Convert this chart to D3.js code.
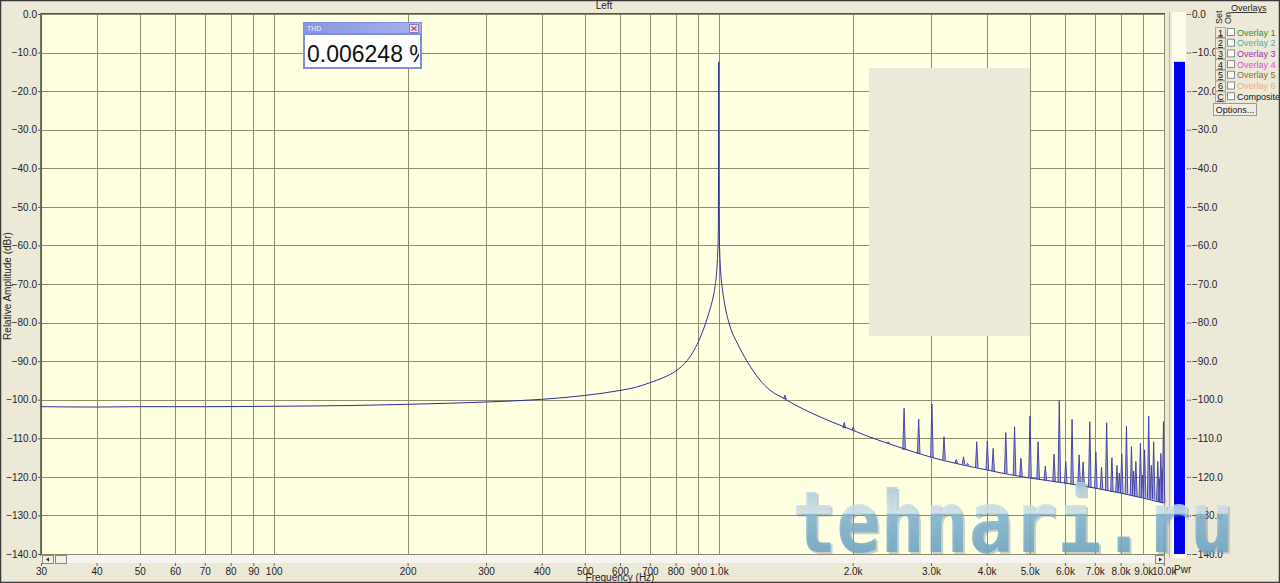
<!DOCTYPE html>
<html><head><meta charset="utf-8">
<script src="https://cdn.jsdelivr.net/npm/d3@7"></script>
<style>
html,body{margin:0;padding:0;background:#ece9d8;}
svg{display:block;font-family:"Liberation Sans",Arial,sans-serif;}
</style></head>
<body>
<script>
// ---------- data ----------
const title = "Left";
const xTitle = "Frequency (Hz)";
const yTitle = "Relative Amplitude (dBr)";
const freqTicks = [30,40,50,60,70,80,90,100,200,300,400,500,600,700,800,900,1000,2000,3000,4000,5000,6000,7000,8000,9000,10000];
const freqLabels = ["30","40","50","60","70","80","90","100","200","300","400","500","600","700","800","900","1.0k","2.0k","3.0k","4.0k","5.0k","6.0k","7.0k","8.0k","9.0k","10.0k"];
const dbTicks = [0,-10,-20,-30,-40,-50,-60,-70,-80,-90,-100,-110,-120,-130,-140];

// continuous spectrum (noise floor + fundamental)
const curveFreq = [30,40,50,70,100,150,200,250,300,400,500,600,650,700,750,800,850,880,908,930,955,970,981,993,998,999.6,1000,1000.4,1003,1010,1020,1033,1060,1104,1155,1238,1300,1409,1500,1600,1800,2000,2200,2500,3000,3500,4000,4500,5000,6000,7000,8000,9000,10000];
const curveDb   = [-101.8,-101.9,-101.8,-101.8,-101.7,-101.5,-101.2,-100.9,-100.6,-99.9,-98.9,-97.6,-96.8,-95.6,-94.3,-92.6,-89.8,-87.2,-84.0,-80.9,-76.7,-73.8,-70.7,-64.0,-56.8,-32.7,-12.4,-32.7,-56.8,-66.5,-71.5,-75.6,-80.9,-85.6,-89.8,-94.9,-97.4,-99.8,-101.6,-103.2,-105.8,-107.9,-109.8,-112.0,-114.9,-116.8,-118.2,-119.4,-120.3,-121.6,-122.9,-124.2,-125.5,-126.8];

// distortion / spurious spectral lines
const spurFreq = [1409,1915,2006,2203,2406,2610,2815,3014,3209,3419,3550,3624,3801,4015,4138,4418,4623,4778,5007,5221,5420,5671,5826,6025,6225,6456,6591,6823,7040,7250,7446,7650,7852,7950,8050,8248,8465,8560,8660,8866,8960,9060,9255,9380,9495,9700,9800,9855,9930,9990];
const spurDb   = [-98.8,-105.9,-107.1,-109.8,-110.9,-102.2,-105.0,-101.1,-109.6,-115.5,-114.8,-116.5,-110.9,-110.7,-112.6,-108.5,-107.0,-115.2,-104.2,-110.9,-117.2,-114.1,-100.3,-116.0,-105.1,-114.3,-116.1,-105.7,-113.5,-117.5,-106.0,-115.0,-117.0,-119.0,-114.0,-106.8,-112.2,-118.5,-116.0,-111.3,-119.5,-113.0,-104.2,-117.0,-110.9,-116.0,-120.5,-113.9,-118.0,-105.7];
const spurBase = [-99.8,-107.4,-107.9,-109.8,-111.3,-113.0,-114.0,-114.9,-115.6,-116.4,-116.8,-117.0,-117.6,-118.2,-118.5,-119.1,-119.5,-119.8,-120.3,-120.6,-120.9,-121.2,-121.4,-121.7,-121.9,-122.2,-122.4,-122.7,-123.0,-123.3,-123.5,-123.8,-124.0,-124.1,-124.2,-124.4,-124.7,-124.8,-125.0,-125.2,-125.3,-125.4,-125.6,-125.8,-125.9,-126.2,-126.4,-126.5,-126.6,-126.8];

const thdValue = "0.006248 %";
const barLevel = -12.4;
const overlayNames = ["Overlay 1","Overlay 2","Overlay 3","Overlay 4","Overlay 5","Overlay 6","Composite"];
const overlayKeys = ["1","2","3","4","5","6","C"];
const overlayColors = ["#2f8f2f","#3fb7a6","#9a35a6","#e04ae0","#8c6a35","#e8b07e","#111111"];

// ---------- drawing ----------
const W = 1280, H = 583;
const svg = d3.select("body").append("svg").attr("width", W).attr("height", H);
const defs = svg.append("defs");

svg.append("rect").attr("width", W).attr("height", H).attr("fill", "#ece9d8");

const P = {l: 41, r: 1165, t: 14, b: 554};
const x = d3.scaleLog().domain([30, 10000]).range([P.l, P.l + 445 * Math.log10(10000/30)]);
const y = d3.scaleLinear().domain([0, -140]).range([P.t, P.b]);

// plot background
svg.append("rect").attr("x", P.l).attr("y", P.t).attr("width", P.r - P.l).attr("height", P.b - P.t).attr("fill", "#ffffe1");

// grid
const grid = svg.append("g").attr("stroke", "#8d8d6e").attr("stroke-width", 1).attr("shape-rendering", "crispEdges");
grid.selectAll(".v").data(freqTicks).join("line")
  .attr("x1", d => Math.round(x(d)) + 0.5).attr("x2", d => Math.round(x(d)) + 0.5)
  .attr("y1", P.t).attr("y2", P.b);
grid.selectAll(".h").data(dbTicks).join("line")
  .attr("x1", P.l).attr("x2", P.r)
  .attr("y1", d => Math.round(y(d)) + 0.5).attr("y2", d => Math.round(y(d)) + 0.5);

// axes frame lines
svg.append("line").attr("x1", P.l).attr("x2", P.l).attr("y1", P.t - 1).attr("y2", P.b + 2).attr("stroke", "#55553f").attr("stroke-width", 1.6);
svg.append("line").attr("x1", P.l).attr("x2", P.r).attr("y1", P.t - 0.5).attr("y2", P.t - 0.5).attr("stroke", "#55553f").attr("stroke-width", 1);

// Y axis labels
const yAxis = d3.axisLeft(y).tickValues(dbTicks).tickFormat(d => d3.format(".1f")(d)).tickSize(2).tickPadding(1);
const yg = svg.append("g").attr("transform", `translate(${P.l - 1},0)`).call(yAxis);
yg.select(".domain").remove();
yg.selectAll("text").attr("font-size", 10).attr("fill", "#222").attr("font-family", "Liberation Sans, Arial");
yg.selectAll("line").attr("stroke", "#555");

// Y title
svg.append("text").attr("transform", `translate(11,${(P.t + P.b)/2 + 2}) rotate(-90)`).attr("text-anchor", "middle")
  .attr("font-size", 10).attr("fill", "#222").text(yTitle);

// chart title
svg.append("text").attr("x", 604).attr("y", 9).attr("text-anchor", "middle").attr("font-size", 10).attr("fill", "#222").text(title);

// scrollbar
svg.append("rect").attr("x", P.l).attr("y", P.b + 1).attr("width", P.r - P.l).attr("height", 8).attr("fill", "#f5f4ef");
function btn(bx, by, bw, bh){
  svg.append("rect").attr("x", bx + 0.5).attr("y", by + 0.5).attr("width", bw).attr("height", bh).attr("fill", "#f1efe6").attr("stroke", "#8a8a80").attr("stroke-width", 1);
}
btn(P.l + 1, P.b + 1, 11, 8);
btn(P.l + 14, P.b + 1, 11, 8);
btn(P.r - 10, P.b + 1, 9, 8);
svg.append("path").attr("d", `M${P.l+5},${P.b+5.5}l3,-2v4z`).attr("fill", "#222");
svg.append("path").attr("d", `M${P.r-3},${P.b+5.5}l-3,-2v4z`).attr("fill", "#222");

// X axis
const xAxis = d3.axisBottom(x).tickValues(freqTicks).tickFormat((d, i) => freqLabels[i]).tickSize(3).tickPadding(2);
const xg = svg.append("g").attr("transform", `translate(0,${P.b + 9})`).call(xAxis);
xg.select(".domain").remove();
xg.selectAll("text").attr("font-size", 10).attr("fill", "#222");
xg.selectAll("line").attr("stroke", "#666");
svg.append("text").attr("x", 620).attr("y", 581).attr("text-anchor", "middle").attr("font-size", 10).attr("fill", "#222").text(xTitle);

// spectrum curve
const pts = curveFreq.map((f, i) => ({f, db: curveDb[i]}));
const line = d3.line().curve(d3.curveMonotoneX).x(d => x(d.f)).y(d => y(d.db));
const plot = svg.append("g");
// spurs
plot.selectAll(".spur").data(spurFreq.map((f, i) => ({f, top: spurDb[i], base: spurBase[i]}))).join("path")
  .attr("d", d => `M${x(d.f) - 1.3},${y(d.base)}L${x(d.f)},${y(d.top)}L${x(d.f) + 1.3},${y(d.base)}`)
  .attr("fill", "#a8a8e2").attr("stroke", "#3a3aa0").attr("stroke-width", 0.9);
plot.append("path").datum(pts).attr("d", line).attr("fill", "none").attr("stroke", "#2e2e96").attr("stroke-width", 1);

// grey occluding panel
svg.append("rect").attr("x", 869).attr("y", 68).attr("width", 161).attr("height", 268).attr("fill", "#ebe9da");

// right separator and level bar
svg.append("line").attr("x1", 1169.5).attr("x2", 1169.5).attr("y1", P.t - 2).attr("y2", P.b + 4).attr("stroke", "#b8b6a8");
svg.append("rect").attr("x", 1172).attr("y", P.t - 2).attr("width", 14).attr("height", P.b - P.t + 6).attr("fill", "#fdfde9");
svg.append("rect").attr("x", 1174).attr("y", y(barLevel)).attr("width", 11).attr("height", y(-140) - y(barLevel)).attr("fill", "#0000f0");
const rAxis = d3.axisRight(y).tickValues(dbTicks).tickFormat(d => d3.format(".1f")(d)).tickSize(4).tickPadding(1);
const rg = svg.append("g").attr("transform", "translate(1187,0)").call(rAxis);
rg.select(".domain").remove();
rg.selectAll("text").attr("font-size", 10).attr("fill", "#222");
rg.selectAll("line").attr("stroke", "#444").attr("stroke-dasharray", "1.5,1");
svg.append("text").attr("x", 1174).attr("y", 573).attr("font-size", 10).attr("fill", "#222").text("Pwr");

// legend
svg.append("text").attr("x", 1231).attr("y", 11).attr("font-size", 9).attr("fill", "#222").attr("text-decoration", "underline").text("Overlays");
svg.append("text").attr("transform", "translate(1222,24) rotate(-90)").attr("font-size", 9).attr("fill", "#222").text("Set");
svg.append("text").attr("transform", "translate(1231,24) rotate(-90)").attr("font-size", 9).attr("fill", "#222").text("On");
const lg = svg.append("g");
overlayNames.forEach((n, i) => {
  const cy = 32 + i * 10.7;
  lg.append("rect").attr("x", 1215.5).attr("y", cy - 4.5).attr("width", 10).attr("height", 10).attr("fill", "#ece9d8").attr("stroke", "#aaa79a");
  lg.append("text").attr("x", 1220.5).attr("y", cy + 3.5).attr("text-anchor", "middle").attr("font-size", 9).attr("fill", "#111").attr("text-decoration", "underline").text(overlayKeys[i]);
  lg.append("rect").attr("x", 1227.5).attr("y", cy - 3.5).attr("width", 7).attr("height", 7).attr("fill", "#fff").attr("stroke", "#8a8a8a");
  lg.append("text").attr("x", 1237).attr("y", cy + 3.5).attr("font-size", 9).attr("fill", overlayColors[i]).text(n);
});
svg.append("rect").attr("x", 1213.5).attr("y", 103.5).attr("width", 43).attr("height", 12).attr("fill", "#f0eee4").attr("stroke", "#9a9890");
svg.append("text").attr("x", 1235).attr("y", 112.5).attr("text-anchor", "middle").attr("font-size", 9).attr("fill", "#111").text("Options...");

// THD box
const tb = svg.append("g");
tb.append("rect").attr("x", 303).attr("y", 22).attr("width", 119).attr("height", 47).attr("fill", "#7f8fdc");
const tg = defs.append("linearGradient").attr("id", "tbar").attr("x1", 0).attr("x2", 1);
tg.append("stop").attr("offset", 0).attr("stop-color", "#8797e2");
tg.append("stop").attr("offset", 1).attr("stop-color", "#a6b2ee");
tb.append("rect").attr("x", 304).attr("y", 23).attr("width", 117).attr("height", 10).attr("fill", "url(#tbar)");
tb.append("text").attr("x", 307).attr("y", 31).attr("font-size", 7).attr("fill", "#eef").text("THD");
tb.append("rect").attr("x", 409.5).attr("y", 24.5).attr("width", 9).attr("height", 8).attr("fill", "#e6e2f4").attr("stroke", "#8080c0");
tb.append("path").attr("d", "M411.5,26.5l5,4M416.5,26.5l-5,4").attr("stroke", "#c04070").attr("stroke-width", 1.3);
tb.append("rect").attr("x", 305).attr("y", 35).attr("width", 115).attr("height", 32).attr("fill", "#ffffff");
defs.append("clipPath").attr("id", "thdclip").append("rect").attr("x", 305).attr("y", 35).attr("width", 114).attr("height", 32);
tb.append("text").attr("clip-path", "url(#thdclip)").attr("x", 307).attr("y", 62).attr("font-size", 23).attr("fill", "#111")
  .attr("font-family", "Liberation Sans, Arial").text(thdValue);

// watermark
const wg = defs.append("linearGradient").attr("id", "wm").attr("gradientUnits", "userSpaceOnUse")
  .attr("x1", 0).attr("x2", 0).attr("y1", 483).attr("y2", 552);
wg.append("stop").attr("offset", 0).attr("stop-color", "#a9cadb");
wg.append("stop").attr("offset", 0.44).attr("stop-color", "#d4e4ea");
wg.append("stop").attr("offset", 0.45).attr("stop-color", "#86b6d0");
wg.append("stop").attr("offset", 1).attr("stop-color", "#6fa5c4");
svg.append("text").attr("x", 792).attr("y", 552).attr("font-size", 86).attr("font-weight", "bold")
  .attr("font-family", "DejaVu Sans Mono, monospace").attr("textLength", 442).attr("lengthAdjust", "spacingAndGlyphs")
  .attr("fill", "#5a7f95").attr("opacity", 0.35).attr("transform", "translate(2,2)").text("tehnari.ru");
svg.append("text").attr("x", 792).attr("y", 552).attr("font-size", 86).attr("font-weight", "bold")
  .attr("font-family", "DejaVu Sans Mono, monospace").attr("textLength", 442).attr("lengthAdjust", "spacingAndGlyphs")
  .attr("fill", "url(#wm)").attr("opacity", 0.85).text("tehnari.ru");

// outer border
svg.append("rect").attr("x", 0.5).attr("y", 0.5).attr("width", W - 1).attr("height", H - 1).attr("fill", "none").attr("stroke", "#3a3a3a").attr("stroke-width", 1.5);
</script>
</body></html>
